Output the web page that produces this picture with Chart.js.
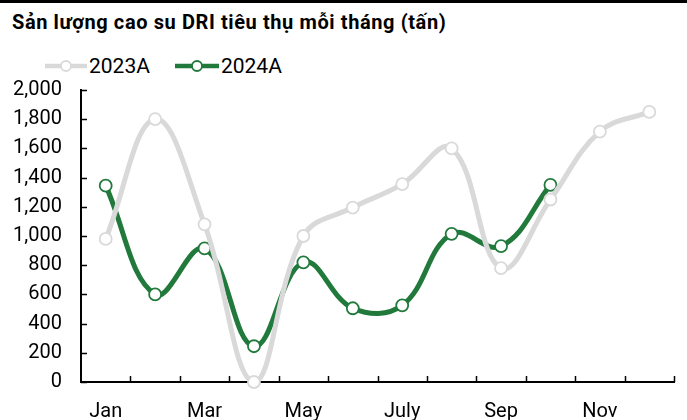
<!DOCTYPE html>
<html>
<head>
<meta charset="utf-8">
<script src="https://cdn.jsdelivr.net/npm/chart.js@4/dist/chart.umd.min.js"></script>
<style>
  body { margin: 0; background: #fff; font-family: Roboto, sans-serif; }
  #wrap { position: relative; width: 687px; height: 420px; overflow: hidden; }
  #topline { position: absolute; left: 0; top: 0; width: 687px; height: 3px; background: #000; }
  #title { position: absolute; left: 12px; top: 9px; font-weight: bold; font-size: 20px; letter-spacing: 0.6px; color: #000; line-height: 26px; }
  #legend { position: absolute; left: 45px; top: 53px; font-size: 21px; color: #000; display: flex; line-height: 26px; }
  .item { display: flex; align-items: center; margin-right: 25px; }
  .item svg { margin-right: 2px; }
  #box { position: absolute; left: 0; top: 67px; width: 687px; height: 353px; }
</style>
</head>
<body>
<div id="wrap">
  <div id="topline"></div>
  <div id="title">Sản lượng cao su DRI tiêu thụ mỗi tháng (tấn)</div>
  <div id="legend">
    <div class="item">
      <svg width="42" height="14"><line x1="0" y1="7" x2="42" y2="7" stroke="#d9d9d9" stroke-width="4.5"/><circle cx="21" cy="7" r="5" fill="#fff" stroke="#d9d9d9" stroke-width="1.8"/></svg>
      <span>2023A</span>
    </div>
    <div class="item">
      <svg width="44" height="14"><line x1="0" y1="7" x2="44" y2="7" stroke="#217a3c" stroke-width="4.5"/><circle cx="22" cy="7" r="5" fill="#fff" stroke="#217a3c" stroke-width="1.8"/></svg>
      <span>2024A</span>
    </div>
  </div>
  <div id="box"><canvas id="chart" width="687" height="353"></canvas></div>
</div>
<script>
const months = ['Jan', 'Feb', 'Mar', 'Apr', 'May', 'Jun', 'July', 'Aug', 'Sep', 'Oct', 'Nov', 'Dec'];
const sales2023 = [980, 1800, 1080, 0, 1000, 1195, 1355, 1600, 780, 1250, 1715, 1850];
const sales2024 = [1345, 600, 915, 245, 820, 505, 525, 1015, 930, 1350];
const yTicks = [0, 200, 400, 600, 800, 1000, 1200, 1400, 1600, 1800, 2000];

// inward tick marks like the source chart
const innerTicks = {
    id: 'innerTicks',
    afterDraw(chart) {
        const ctx = chart.ctx;
        const x = chart.scales.x, y = chart.scales.y;
        ctx.save();
        ctx.strokeStyle = '#000';
        ctx.lineWidth = 1.5;
        ctx.beginPath();
        yTicks.forEach(v => {
            const py = Math.round(y.getPixelForValue(v)) + 0.5;
            ctx.moveTo(x.left, py);
            ctx.lineTo(x.left + 6, py);
        });
        const step = (x.right - x.left) / months.length;
        for (let i = 1; i <= months.length; i++) {
            const px = Math.round(x.left + step * i) + 0.5;
            ctx.moveTo(px, y.bottom);
            ctx.lineTo(px, y.bottom - 6);
        }
        ctx.stroke();
        ctx.restore();
    }
};

new Chart(document.getElementById('chart'), {
    type: 'line',
    data: {
        labels: months,
        datasets: [{
            label: '2023A',
            data: sales2023,
            borderColor: '#d9d9d9',
            borderWidth: 5,
            tension: 0.4,
            pointRadius: 6,
            pointBorderWidth: 1.8,
            pointBackgroundColor: '#fff',
            pointBorderColor: '#d9d9d9',
            clip: false,
        }, {
            label: '2024A',
            data: sales2024,
            borderColor: '#217a3c',
            borderWidth: 5,
            tension: 0.4,
            pointRadius: 6,
            pointBorderWidth: 1.8,
            pointBackgroundColor: '#fff',
            pointBorderColor: '#217a3c',
            clip: false,
        }]
    },
    options: {
        responsive: false,
        animation: false,
        layout: { padding: { top: 10, right: 13, left: 0, bottom: 0 } },
        plugins: { legend: { display: false }, tooltip: { enabled: false } },
        scales: {
            x: {
                offset: true,
                grid: { display: false },
                border: { display: true, color: '#000', width: 2 },
                ticks: {
                    autoSkip: false,
                    maxRotation: 0,
                    color: '#000',
                    font: { family: 'Roboto', size: 20 },
                    padding: 10,
                    callback: (v, i) => (i % 2 === 0 ? months[i] : '')
                },
                afterFit: s => { s.height = 38; }
            },
            y: {
                min: 0,
                max: 2000,
                grid: { display: false },
                border: { display: true, color: '#000', width: 2 },
                ticks: {
                    stepSize: 200,
                    color: '#000',
                    font: { family: 'Roboto', size: 20 },
                    padding: 11,
                    callback: v => v.toLocaleString('en-US')
                },
                afterFit: s => { s.width = 81; }
            }
        }
    },
    plugins: [innerTicks]
});
</script>
</body>
</html>
